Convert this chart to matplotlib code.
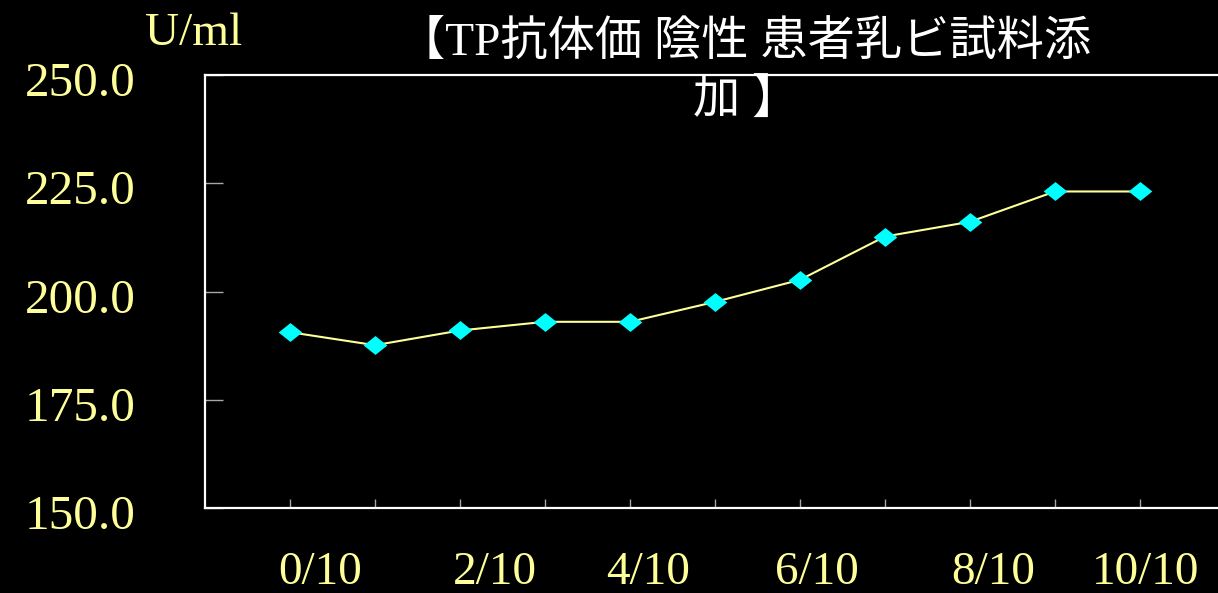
import matplotlib
matplotlib.use("Agg")
import matplotlib.pyplot as plt
from matplotlib.path import Path
from matplotlib.transforms import ScaledTranslation

# ---- data ----
ratios = ["0/10", "1/10", "2/10", "3/10", "4/10", "5/10",
          "6/10", "7/10", "8/10", "9/10", "10/10"]
values = [190.6, 187.6, 191.0, 193.0, 193.0, 197.6,
          202.7, 212.7, 216.1, 223.1, 223.1]
shown_labels = ["0/10", "2/10", "4/10", "6/10", "8/10", "10/10"]
y_ticks = [150, 175, 200, 225, 250]
y_labels = ["150.0", "175.0", "200.0", "225.0", "250.0"]
title_line1 = "【TP抗体価 陰性 患者乳ビ試料添"
title_line2 = "加 】"
unit_label = "U/ml"

# layout (label placement as in the original slide)
label_shift = [0.35, 0.41, 0.21, 0.20, 0.27, 0.06]

W, H = 1218, 593
fig = plt.figure(figsize=(W / 100, H / 100), dpi=100, facecolor="black")
ax = fig.add_axes([205 / W, (H - 508) / H, 1020 / W, 433 / H])
ax.set_facecolor("black")

yellow = "#FFFF99"
cyan = "#00FFFF"
grey = "#A8A8A8"

diamond = Path([(-1, 0), (0, 0.8), (1, 0), (0, -0.8), (-1, 0)],
               [Path.MOVETO, Path.LINETO, Path.LINETO, Path.LINETO, Path.CLOSEPOLY])

xs = list(range(len(ratios)))
ax.plot(xs, values, color=yellow, lw=1.5, zorder=2)
ax.plot(xs, values, ls="none", marker=diamond, ms=17, color=cyan,
        markeredgewidth=0, zorder=3)

ax.set_xlim(-1, 11)
ax.set_ylim(150, 250)

for s in ["left", "bottom", "top"]:
    ax.spines[s].set_color("white")
    ax.spines[s].set_linewidth(1.6)
ax.spines["right"].set_visible(False)

# x: minor ticks at each point, labels at their slide positions
lab_idx = [ratios.index(l) for l in shown_labels]
ax.set_xticks([i + d for i, d in zip(lab_idx, label_shift)])
ax.set_xticklabels(shown_labels)
ax.set_xticks(xs, minor=True)
ax.tick_params(axis="x", which="major", length=0, pad=31, labelsize=34,
               labelcolor=yellow)
ax.tick_params(axis="x", which="minor", direction="in", length=6.5,
               width=1, color=grey)
for t in ax.get_xticklabels():
    t.set_fontfamily("Liberation Serif")

ax.set_yticks(y_ticks)
ax.set_yticklabels(y_labels)
ax.tick_params(axis="y", which="major", direction="in", length=13, width=1,
               color=grey, pad=90, labelsize=35.5, labelcolor=yellow)
off = ScaledTranslation(0, -3 / 72, fig.dpi_scale_trans)
for t in ax.get_yticklabels():
    t.set_fontfamily("Liberation Serif")
    t.set_horizontalalignment("center")
    t.set_transform(t.get_transform() + off)

fig.text(194 / W, 1 - 45 / H, unit_label, color=yellow, fontsize=34,
         family="Liberation Serif", ha="center", va="baseline")

fam = ["Liberation Serif", "Noto Sans CJK JP"]
fig.text(745 / W, 1 - 43 / H, title_line1, color="white", fontsize=34,
         family=fam, ha="center", va="center")
fig.text(746 / W, 1 - 102 / H, title_line2, color="white", fontsize=34,
         family=fam, ha="center", va="center")

fig.savefig("out.png", dpi=100, facecolor="black")
